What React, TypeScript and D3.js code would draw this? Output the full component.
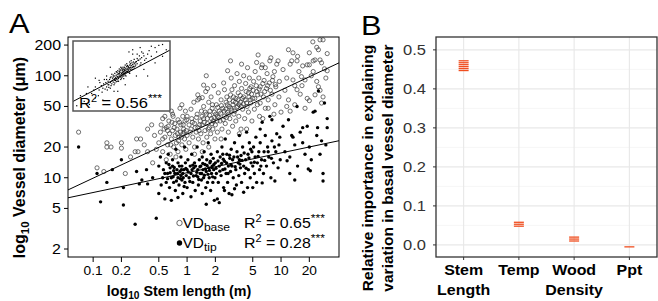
import React from 'react';
import * as d3 from 'd3';

const W = 658;
const H = 301;
const FONT = 'Liberation Sans, Arial, Helvetica, sans-serif';
const SX = 1.1; // the reference text is a bit wide

// ---- panel A data ----
const xTicksA = [0.1, 0.2, 0.5, 1, 2, 5, 10, 20];
const yTicksA = [2, 5, 10, 20, 50, 100, 200];
// power-law fits D = a * L^b
const baseFit = { a: 26.8, b: 0.432, r2: '0.65' };
const tipFit = { a: 11.2, b: 0.194, r2: '0.28' };
// inset fit in log units, y = a + b x
const insetFit = { a: 0.666, b: 0.904, r2: '0.56' };

// [stem length (m), basal vessel diameter (um)]
const vdBase: [number, number][] = [
  [0.07, 28], [0.11, 12.5], [0.13, 11.5], [0.14, 22], [0.14, 20], [0.155, 20], [0.2, 22], [0.2, 19.5], [0.22, 11],
  [0.28, 18], [0.29, 24], [0.3, 18], [0.32, 24], [0.38, 30], [0.38, 18], [0.43, 14], [0.25, 16], [0.35, 21],
  [0.45, 26], [0.42, 33], [0.47, 19],
  [0.5, 22], [0.52, 28], [0.55, 38], [0.55, 18], [0.58, 40], [0.58, 25], [0.6, 31], [0.62, 21], [0.63, 32],
  [0.65, 27], [0.66, 17], [0.68, 45], [0.68, 24], [0.7, 42], [0.7, 29], [0.71, 40], [0.72, 20], [0.74, 34],
  [0.75, 26], [0.77, 22], [0.78, 30], [0.8, 37], [0.8, 18], [0.82, 25], [0.84, 48], [0.85, 28], [0.86, 33],
  [0.88, 21], [0.9, 40], [0.9, 27], [0.92, 30], [0.94, 24], [0.95, 36], [0.97, 19], [0.98, 29], [1.0, 40],
  [0.53, 33], [0.6, 15], [0.76, 16], [0.88, 52], [0.64, 36], [0.96, 45],
  [0.55, 24], [0.62, 29], [0.67, 21], [0.73, 31], [0.79, 27], [0.83, 35], [0.87, 25], [0.91, 33], [0.99, 37],
  [0.57, 30], [0.69, 35], [0.81, 23], [0.93, 28],
  [1.0, 26], [1.05, 33], [1.05, 22], [1.1, 47], [1.1, 30], [1.12, 38], [1.15, 25], [1.18, 55], [1.2, 34],
  [1.2, 20], [1.25, 28], [1.28, 42], [1.3, 31], [1.32, 24], [1.35, 60], [1.38, 36], [1.4, 27], [1.42, 45],
  [1.45, 33], [1.48, 22], [1.5, 50], [1.5, 38], [1.55, 29], [1.58, 70], [1.6, 100], [1.6, 42], [1.62, 25],
  [1.65, 34], [1.7, 55], [1.72, 31], [1.75, 45], [1.78, 27], [1.8, 62], [1.82, 38], [1.85, 48], [1.88, 30],
  [1.9, 36], [1.92, 80], [1.95, 44], [1.98, 24], [1.2, 17], [1.45, 18], [1.7, 20], [1.3, 65], [1.65, 75],
  [1.5, 81], [1.3, 58], [1.45, 61],
  [1.08, 28], [1.14, 35], [1.22, 31], [1.26, 39], [1.34, 29], [1.36, 33], [1.44, 40], [1.52, 35], [1.56, 44],
  [1.64, 38], [1.68, 30], [1.74, 41], [1.84, 34], [1.86, 52], [1.94, 39],
  [2.0, 33], [2.05, 52], [2.1, 40], [2.1, 28], [2.15, 68], [2.2, 45], [2.25, 36], [2.3, 58], [2.35, 30],
  [2.4, 48], [2.45, 85], [2.5, 73], [2.5, 40], [2.55, 34], [2.6, 55], [2.65, 62], [2.7, 112], [2.7, 44],
  [2.75, 28], [2.8, 50], [2.85, 38], [2.9, 65], [2.95, 95], [3.0, 73], [3.0, 46], [3.05, 32], [3.1, 56],
  [3.15, 42], [3.2, 80], [3.3, 60], [3.3, 36], [3.4, 105], [3.45, 50], [3.5, 68], [3.55, 40], [3.6, 88],
  [3.7, 55], [3.75, 30], [3.8, 75], [3.9, 47], [4.0, 100], [4.0, 62], [4.1, 38], [4.2, 84], [4.3, 54],
  [4.4, 120], [4.5, 68], [4.5, 44], [4.6, 95], [4.7, 58], [4.8, 78], [4.9, 36], [2.3, 24], [3.6, 27],
  [4.3, 30], [2.9, 140], [3.8, 130],
  [2.02, 42], [2.08, 36], [2.12, 49], [2.18, 39], [2.28, 43], [2.32, 51], [2.42, 37], [2.48, 45], [2.58, 47],
  [2.62, 39], [2.68, 52], [2.78, 42], [2.82, 58], [2.92, 48], [3.08, 52], [3.12, 62], [3.22, 45], [3.28, 55],
  [3.38, 49], [3.48, 58], [3.58, 52], [3.68, 64], [3.78, 50], [3.88, 60], [3.98, 53], [4.15, 58], [4.25, 70],
  [4.35, 50], [4.55, 62], [4.65, 75], [4.75, 54], [4.85, 66],
  [5.0, 60], [5.1, 88], [5.2, 47], [5.3, 110], [5.5, 135], [5.5, 70], [5.6, 52], [5.8, 95], [5.9, 40],
  [6.0, 54], [6.0, 78], [6.2, 120], [6.3, 128], [6.5, 62], [6.6, 90], [6.8, 120], [6.8, 48], [7.0, 75],
  [7.1, 105], [7.3, 48], [7.3, 58], [7.5, 85], [7.6, 140], [7.8, 150], [8.0, 66], [8.2, 98], [8.5, 110],
  [8.6, 52], [8.8, 78], [9.0, 130], [9.3, 140], [9.5, 62], [9.6, 88], [10.0, 44], [6.4, 38], [8.4, 42],
  [5.7, 160], [5.05, 72], [5.25, 60], [5.45, 80], [5.65, 65], [5.85, 74], [6.1, 66], [6.4, 84], [6.7, 70],
  [7.2, 80], [7.7, 72], [8.1, 90], [8.7, 82],
  [10.5, 115], [11, 72], [11.5, 95], [12, 58], [12.5, 45], [12.5, 130], [13, 140], [13.4, 91], [13.4, 168],
  [14, 80], [14.8, 140], [14.8, 73], [15, 155], [15.5, 110], [16, 66], [16.5, 98], [16.7, 80], [17, 125],
  [18, 91], [19, 128], [19, 60], [20, 168], [20, 128], [20, 57], [21, 100], [21.8, 215], [22, 140], [23, 65],
  [23, 143], [24, 190], [24, 88], [25, 180], [26, 143], [26, 225], [26, 72], [27, 134], [27, 54], [28, 225],
  [29, 117], [30, 95], [31, 112], [31, 165], [11.5, 50], [14, 52], [18, 48], [22, 110], [25, 78], [28, 62],
  [12, 180],
];

// [stem length (m), tip vessel diameter (um)]
const vdTip: [number, number][] = [
  [0.07, 20], [0.11, 11], [0.12, 5.8], [0.14, 9], [0.16, 12], [0.2, 15], [0.21, 5.4], [0.21, 8], [0.28, 3.5],
  [0.29, 11.5], [0.31, 8.7], [0.37, 12], [0.38, 8.7], [0.47, 4], [0.43, 10], [0.33, 9.5],
  [0.5, 7], [0.5, 13], [0.52, 16], [0.55, 10], [0.56, 12], [0.58, 6.2], [0.6, 9], [0.6, 14], [0.62, 11],
  [0.63, 17], [0.65, 8], [0.66, 12.5], [0.68, 6], [0.68, 10], [0.7, 13], [0.7, 15], [0.72, 9], [0.74, 11],
  [0.75, 7.5], [0.76, 19], [0.78, 12], [0.8, 6.4], [0.8, 10], [0.8, 14], [0.82, 8.5], [0.84, 11.5], [0.86, 16],
  [0.88, 9.5], [0.88, 13], [0.9, 7], [0.9, 11], [0.92, 12], [0.94, 20], [0.95, 9], [0.96, 14], [0.98, 10.5],
  [0.53, 8.5], [0.58, 11], [0.64, 13.5], [0.72, 11.7], [0.86, 10.5], [0.93, 8.2],
  [0.62, 9.8], [0.66, 11.2], [0.71, 10.2], [0.73, 12.6], [0.77, 9.3], [0.79, 11], [0.83, 13], [0.85, 9.8],
  [0.87, 12], [0.91, 10], [0.97, 12.3],
  [1.0, 12], [1.0, 8], [1.02, 15], [1.05, 10], [1.08, 13], [1.1, 6.5], [1.1, 11], [1.12, 17], [1.15, 9],
  [1.18, 12.5], [1.2, 14], [1.22, 7.5], [1.25, 10.5], [1.28, 20], [1.3, 12], [1.32, 8.5], [1.35, 15],
  [1.38, 11], [1.4, 13], [1.42, 9.5], [1.45, 7], [1.45, 16], [1.48, 12], [1.5, 10], [1.52, 18], [1.55, 13.5],
  [1.58, 8], [1.6, 11.5], [1.62, 15], [1.65, 9], [1.68, 22], [1.7, 12.5], [1.72, 10], [1.75, 14], [1.78, 7.5],
  [1.8, 17], [1.82, 11], [1.85, 13], [1.88, 9], [1.9, 15.5], [1.92, 12], [1.95, 6], [1.98, 10], [1.15, 13.3],
  [1.3, 10.2], [1.6, 5.5],
  [1.03, 11.4], [1.07, 9.2], [1.13, 12], [1.17, 10.4], [1.23, 13], [1.27, 11.3], [1.33, 9.6], [1.37, 12.8],
  [1.43, 11], [1.47, 13.8], [1.53, 10.6], [1.57, 12.2], [1.63, 13.2], [1.67, 10.8], [1.73, 11.8], [1.77, 14.5],
  [1.83, 12.6], [1.87, 10.2], [1.93, 13.5],
  [2.0, 14], [2.05, 11], [2.1, 6.2], [2.1, 18], [2.15, 9], [2.2, 13], [2.2, 5.7], [2.25, 16], [2.3, 10.5],
  [2.35, 20], [2.4, 12], [2.45, 8], [2.5, 14.5], [2.55, 24], [2.6, 11], [2.65, 17], [2.7, 9], [2.75, 13],
  [2.8, 7], [2.85, 15.5], [2.9, 11.5], [2.95, 19], [3.0, 6.8], [3.0, 13], [3.1, 10], [3.15, 16], [3.2, 22],
  [3.3, 12], [3.35, 8.5], [3.4, 18], [3.5, 14], [3.55, 10.5], [3.6, 26], [3.7, 12.5], [3.75, 16.5], [3.8, 9],
  [3.9, 20], [4.0, 13], [4.1, 11], [4.2, 15], [4.3, 28], [4.4, 8], [4.45, 17], [4.5, 12], [4.6, 22], [4.7, 10],
  [4.8, 14], [4.9, 18], [2.5, 7.5], [3.2, 7.8], [4.0, 7.2], [2.4, 17], [3.6, 15],
  [2.03, 12.4], [2.13, 14.6], [2.23, 11.6], [2.33, 13.8], [2.43, 15.2], [2.53, 12.2], [2.63, 14], [2.73, 11],
  [2.83, 16.6], [2.93, 13.4], [3.05, 15], [3.25, 12.8], [3.45, 16], [3.65, 13.6], [3.85, 14.8], [4.05, 17.5],
  [4.25, 12.4], [4.55, 15.6], [4.75, 19],
  [5.0, 8], [5.0, 13], [5.1, 20], [5.2, 11], [5.3, 16], [5.4, 25], [5.5, 9], [5.6, 14], [5.8, 18], [5.9, 12],
  [6.0, 30], [6.0, 22], [6.2, 15], [6.3, 35], [6.3, 8.9], [6.5, 11], [6.6, 18], [6.8, 26], [7.0, 13],
  [7.2, 20], [7.4, 16], [7.6, 40], [7.8, 10], [8.0, 37], [8.0, 23], [8.3, 14], [8.6, 9.3], [8.8, 18], [9.0, 27],
  [9.3, 12.5], [9.5, 21], [9.7, 25], [9.8, 15], [5.2, 14.2], [5.7, 16.2], [6.1, 13], [6.7, 14.8], [7.3, 18],
  [7.9, 15.5], [8.5, 20],
  [10.5, 32], [11, 18], [11.6, 14.7], [12, 37], [12.4, 16], [12.4, 11], [13, 26], [13.4, 25], [14, 21],
  [14.8, 50], [15, 13], [16, 28], [17, 31], [18, 17], [19, 32], [19.5, 12.2], [20, 20], [20.5, 11.7], [22, 44],
  [23, 45], [24, 26], [24.5, 31], [25, 71], [26, 17], [27, 23], [28, 11], [28, 9.3], [29, 54], [30, 21],
  [31, 38], [31, 31], [14, 9.5], [17, 22], [21, 15],
];

// inset: [log10 tip diameter, log10 basal diameter]
const insetPts: [number, number][] = [
  [0.75, 1.3], [0.8, 1.2], [0.8, 1.45], [0.85, 1.38], [0.86, 1.55], [0.84, 1.25], [0.9, 1.42], [0.91, 1.52],
  [0.89, 1.33], [0.92, 1.62], [0.95, 1.45], [0.94, 1.55], [0.96, 1.38], [0.95, 1.62], [0.97, 1.5],
  [1.0, 1.55], [1.01, 1.48], [0.99, 1.62], [1.0, 1.42], [1.02, 1.58], [0.98, 1.5], [1.01, 1.68],
  [1.05, 1.62], [1.04, 1.56], [1.06, 1.7], [1.05, 1.5], [1.03, 1.65], [1.07, 1.6], [1.06, 1.76], [1.04, 1.68],
  [1.1, 1.69], [1.09, 1.62], [1.11, 1.75], [1.1, 1.58], [1.12, 1.7], [1.08, 1.72], [1.1, 1.82], [1.11, 1.64],
  [1.09, 1.78], [1.15, 1.76], [1.14, 1.7], [1.16, 1.82], [1.15, 1.65], [1.13, 1.78], [1.17, 1.74],
  [1.15, 1.88], [1.16, 1.68], [1.14, 1.84], [1.18, 1.8], [1.2, 1.82], [1.19, 1.76], [1.21, 1.88], [1.2, 1.72],
  [1.22, 1.84], [1.18, 1.86], [1.2, 1.95], [1.21, 1.78], [1.19, 1.9], [1.25, 1.89], [1.24, 1.82], [1.26, 1.95],
  [1.25, 1.78], [1.27, 1.9], [1.23, 1.94], [1.26, 2.02], [1.24, 1.86], [1.3, 1.96], [1.29, 1.9], [1.31, 2.02],
  [1.3, 1.85], [1.32, 1.98], [1.28, 2.05], [1.31, 1.92], [1.35, 2.03], [1.34, 1.95], [1.36, 2.1], [1.33, 2.0],
  [1.37, 2.06], [1.4, 2.09], [1.41, 2.0], [1.39, 2.16], [1.42, 2.12], [1.45, 2.16], [1.46, 2.06], [1.44, 2.22],
  [1.5, 2.2], [1.52, 2.28],
  [1.07, 1.66], [1.13, 1.73], [1.17, 1.79], [1.23, 1.86], [1.12, 1.8], [1.18, 1.7], [1.08, 1.57], [1.27, 1.84],
  [1.03, 1.6], [1.16, 1.86], [1.22, 1.92], [1.13, 1.67], [1.06, 1.64], [1.19, 1.82], [1.28, 1.94],
  [0.88, 1.48], [0.93, 1.4], [0.97, 1.58], [1.0, 1.66], [1.02, 1.52], [1.04, 1.72], [1.06, 1.54], [1.08, 1.8],
  [1.09, 1.68], [1.11, 1.58], [1.12, 1.86], [1.14, 1.62], [1.15, 1.72], [1.16, 1.78], [1.17, 1.9], [1.18, 1.64],
  [1.19, 1.84], [1.2, 1.78], [1.21, 1.7], [1.22, 1.98], [1.23, 1.8], [1.24, 1.92], [1.25, 1.84], [1.26, 1.88],
  [1.27, 1.98], [1.28, 1.86], [1.29, 2.0], [1.3, 1.9], [1.32, 2.08], [1.33, 1.92], [1.34, 2.02], [1.36, 1.98],
  [1.38, 2.06], [1.12, 1.76], [1.14, 1.9], [1.1, 1.74], [1.08, 1.64], [1.06, 1.6], [1.18, 1.76], [1.22, 1.8],
  [1.16, 1.74], [1.2, 1.86], [1.24, 1.9], [1.13, 1.82], [1.17, 1.84], [0.98, 1.44], [1.02, 1.74], [1.26, 1.76],
  [1.32, 1.88], [1.4, 1.95], [0.95, 1.7], [1.42, 2.25], [1.48, 2.1], [1.55, 2.15], [0.85, 1.6], [0.78, 1.38],
  [1.36, 2.2], [1.62, 2.25], [0.68, 1.3], [1.75, 2.3],
  [0.6, 1.25], [0.65, 1.12], [0.7, 1.45], [0.72, 1.05], [1.6, 2.35], [1.65, 2.4], [1.55, 2.38], [1.7, 2.15],
  [1.3, 2.3], [1.4, 2.35], [1.0, 1.9], [0.9, 1.15], [1.5, 1.7], [1.2, 1.5], [1.35, 1.7], [1.7, 2.42],
  [0.55, 1.02], [1.25, 2.25], [1.45, 1.85], [0.8, 1.65], [1.1, 1.35], [1.3, 2.2], [1.05, 1.35], [1.6, 2.0],
];

// ---- panel B data ----
const predictors = ['Stem Length', 'Temp', 'Wood Density', 'Ppt'];
const importance = [
  [0.447, 0.452, 0.457, 0.462, 0.467, 0.472],
  [0.048, 0.053, 0.058],
  [0.01, 0.015, 0.02],
  [-0.005],
];
const yTicksB = [0, 0.1, 0.2, 0.3, 0.4, 0.5];
const yMinorB = [0.05, 0.15, 0.25, 0.35, 0.45];

function T({ x, y, size, anchor = 'start', weight = 'normal', fill = '#000', sx = SX, rot = 0, children }: any) {
  const tr = `translate(${x},${y}) scale(${sx},1)` + (rot ? ` rotate(${rot})` : '');
  return (
    <text transform={tr} fontSize={size} textAnchor={anchor} fontWeight={weight} fill={fill} fontFamily={FONT}>
      {children}
    </text>
  );
}

export default function App() {
  // panel A
  const A = { l: 68, r: 339, t: 37, b: 257 };
  const x = d3.scaleLog().domain([0.054, 41.4]).range([A.l, A.r]);
  const y = d3.scaleLog().domain([1.67, 240]).range([A.b, A.t]);
  const fitLine = (f: { a: number; b: number }) =>
    d3.line<number>().x((d) => x(d)).y((d) => y(f.a * Math.pow(d, f.b)))(x.domain());

  const I = { l: 73, r: 170, t: 41, b: 111 };
  const ix = d3.scaleLinear().domain([0.5, 1.8]).range([I.l, I.r]);
  const iy = d3.scaleLinear().domain([0.9, 2.5]).range([I.b, I.t]);
  const insetLine = d3.line<number>().x((d) => ix(d)).y((d) => iy(insetFit.a + insetFit.b * d))(ix.domain());

  // panel B
  const B = { l: 436, r: 657, t: 37, b: 257 };
  const bx = d3.scalePoint<string>().domain(predictors).range([B.l, B.r]).padding(0.5);
  const by = d3.scaleLinear().domain([-0.031, 0.533]).range([B.b, B.t]);

  return (
    <svg width={W} height={H} style={{ position: 'absolute', left: 0, top: 0, background: '#fff' }}>
      <defs>
        <clipPath id="clipA"><rect x={A.l} y={A.t} width={A.r - A.l} height={A.b - A.t} /></clipPath>
        <clipPath id="clipI"><rect x={I.l} y={I.t} width={I.r - I.l} height={I.b - I.t} /></clipPath>
      </defs>

      {/* ===== Panel A ===== */}
      <T x={9} y={33} size={28}>A</T>
      <g clipPath="url(#clipA)">
        {vdBase.map((d, i) => (
          <circle key={'b' + i} cx={x(d[0])} cy={y(d[1])} r={2.1} fill="none" stroke="#333" strokeWidth={0.7} />
        ))}
        {vdTip.map((d, i) => (
          <circle key={'t' + i} cx={x(d[0])} cy={y(d[1])} r={1.7} fill="#000" />
        ))}
        <path d={fitLine(baseFit) || ''} stroke="#000" strokeWidth={1} fill="none" />
        <path d={fitLine(tipFit) || ''} stroke="#000" strokeWidth={1} fill="none" />
      </g>
      <rect x={A.l} y={A.t} width={A.r - A.l} height={A.b - A.t} fill="none" stroke="#000" strokeWidth={1} />

      {/* inset */}
      <rect x={I.l} y={I.t} width={I.r - I.l} height={I.b - I.t} fill="#fff" />
      <g clipPath="url(#clipI)">
        {insetPts.map((d, i) => (
          <rect key={'i' + i} x={ix(d[0]) - 0.6} y={iy(d[1]) - 0.6} width={1.2} height={1.2} fill="#000" />
        ))}
        <path d={insetLine || ''} stroke="#000" strokeWidth={1} fill="none" />
      </g>
      <rect x={I.l} y={I.t} width={I.r - I.l} height={I.b - I.t} fill="none" stroke="#555" strokeWidth={1.5} />
      <T x={79} y={108} size={15}>
        R<tspan fontSize={10} dy={-6}>2</tspan><tspan dy={6}> = {insetFit.r2}</tspan>
        <tspan fontSize={11} dy={-6}>***</tspan>
      </T>

      {/* axes A */}
      {yTicksA.map((t) => (
        <g key={'ya' + t}>
          <line x1={A.l - 4} x2={A.l} y1={y(t)} y2={y(t)} stroke="#000" />
          <T x={A.l - 7} y={y(t) + 5} size={14.5} anchor="end">{t}</T>
        </g>
      ))}
      {xTicksA.map((t) => (
        <g key={'xa' + t}>
          <line x1={x(t)} x2={x(t)} y1={A.b} y2={A.b + 5} stroke="#000" />
          <T x={x(t)} y={275} size={12.5} anchor="middle">{t}</T>
        </g>
      ))}
      <T x={179} y={296} size={14} anchor="middle" weight="bold" sx={1.02}>
        log<tspan fontSize={10} dy={3}>10</tspan><tspan dy={-3}> Stem length (m)</tspan>
      </T>
      <T x={25} y={157.5} size={16} anchor="middle" weight="bold" sx={1} rot={-90}>
        log<tspan fontSize={11.5} dy={4}>10</tspan><tspan dy={-4}> Vessel diameter (μm)</tspan>
      </T>

      {/* legend */}
      <circle cx={179.5} cy={223} r={2.7} fill="#fff" stroke="#444" strokeWidth={0.8} />
      <circle cx={179.5} cy={243} r={2.7} fill="#000" />
      <T x={182.5} y={228} size={14}>
        VD<tspan fontSize={11} dy={3}>base</tspan>
      </T>
      <T x={182.5} y={248} size={14}>
        VD<tspan fontSize={11} dy={3}>tip</tspan>
      </T>
      {[baseFit, tipFit].map((f, i) => (
        <T key={'r' + i} x={244} y={228 + i * 20} size={14.5}>
          R<tspan fontSize={10} dy={-6}>2</tspan><tspan dy={6}> = {f.r2}</tspan>
          <tspan fontSize={11} dy={-6}>***</tspan>
        </T>
      ))}

      {/* ===== Panel B ===== */}
      <T x={361} y={35} size={28}>B</T>
      {yMinorB.map((t) => (
        <line key={'mn' + t} x1={B.l} x2={B.r} y1={by(t)} y2={by(t)} stroke="#f2f2f2" strokeWidth={0.7} />
      ))}
      {yTicksB.map((t) => (
        <line key={'mj' + t} x1={B.l} x2={B.r} y1={by(t)} y2={by(t)} stroke="#e8e8e8" strokeWidth={1.1} />
      ))}
      {predictors.map((p) => (
        <line key={'vg' + p} x1={bx(p)} x2={bx(p)} y1={B.t} y2={B.b} stroke="#e8e8e8" strokeWidth={1.1} />
      ))}
      {predictors.map((p, i) =>
        importance[i].map((v, j) => (
          <line key={p + j} x1={(bx(p) as number) - 5} x2={(bx(p) as number) + 5} y1={by(v)} y2={by(v)}
            stroke="#f04e1f" strokeWidth={1.3} />
        ))
      )}
      <rect x={B.l} y={B.t} width={B.r - B.l} height={B.b - B.t} fill="none" stroke="#333" strokeWidth={1.3} />
      {yTicksB.map((t) => (
        <g key={'yb' + t}>
          <line x1={B.l - 3} x2={B.l} y1={by(t)} y2={by(t)} stroke="#333" />
          <T x={B.l - 10} y={by(t) + 5.5} size={15} anchor="end" fill="#333">{t.toFixed(1)}</T>
        </g>
      ))}
      {predictors.map((p) => (
        <g key={'xb' + p}>
          <line x1={bx(p)} x2={bx(p)} y1={B.b} y2={B.b + 3} stroke="#333" />
          {p.split(' ').map((w, k) => (
            <T key={w} x={bx(p)} y={275 + k * 20} size={14.5} anchor="middle" weight="bold">{w}</T>
          ))}
        </g>
      ))}
      <T x={373} y={168} size={15.5} anchor="middle" weight="bold" sx={1} rot={-90}>
        Relative importance in explaining
      </T>
      <T x={393} y={168} size={15.5} anchor="middle" weight="bold" sx={1} rot={-90}>
        variation in basal vessel diameter
      </T>
    </svg>
  );
}
